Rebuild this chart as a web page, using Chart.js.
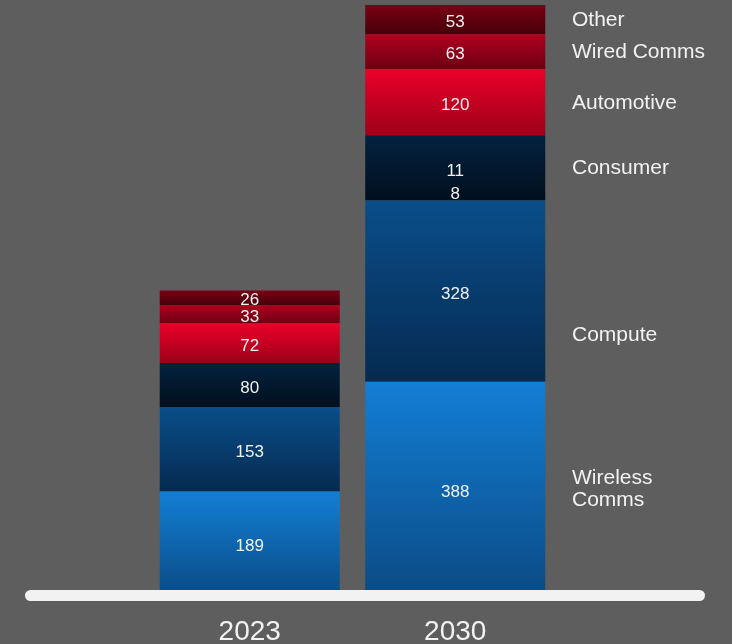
<!DOCTYPE html>
<html>
<head>
<meta charset="utf-8">
<script src="https://cdn.jsdelivr.net/npm/chart.js@4.4.0/dist/chart.umd.min.js"></script>
<style>
html, body { margin: 0; padding: 0; background: #5e5e5e; }
#wrap { width: 732px; height: 644px; }
</style>
</head>
<body>
<div id="wrap"><canvas id="myChart" width="732" height="644"></canvas></div>
<script>
const years = ['2023', '2030'];
const segments = ['Wireless Comms', 'Compute', 'Consumer', 'Automotive', 'Wired Comms', 'Other'];
const wireless = [189, 388];
const compute = [153, 328];
const consumer = [80, 118];
const automotive = [72, 120];
const wiredComms = [33, 63];
const other = [26, 53];
const series = [wireless, compute, consumer, automotive, wiredComms, other];

// the 2030 consumer label is shown split on two lines in the source
const splitText = { 'Consumer|2030': ['11', '8'] };

const gradTop = ['#127fd5', '#0a4e8a', '#04223f', '#ec0029', '#b0001f', '#7a0014'];
const gradBottom = ['#0b4a84', '#052a50', '#010f1e', '#9c0019', '#6c0010', '#46000a'];
const sideShift = [0, 44, 0, 0, 0, 0];
const txt = '#f2f2f2';
const fontFam = '"Liberation Sans", Arial, Helvetica, sans-serif';

function segmentFill(di) {
    return function(context) {
        const chart = context.chart;
        const y = chart.scales.y;
        const i = context.dataIndex;
        if (!chart.chartArea || !y || i === undefined) return gradTop[di];
        let base = 0;
        for (let k = 0; k < di; k++) base += series[k][i];
        const top = y.getPixelForValue(base + series[di][i]);
        const bottom = y.getPixelForValue(base);
        const g = chart.ctx.createLinearGradient(0, top, 0, bottom);
        g.addColorStop(0, gradTop[di]);
        g.addColorStop(1, gradBottom[di]);
        return g;
    };
}

const decor = {
    id: 'decor',
    afterDatasetsDraw(chart) {
        const ctx = chart.ctx;
        const area = chart.chartArea;
        ctx.save();
        // values inside the bars
        ctx.font = '17px ' + fontFam;
        ctx.fillStyle = txt;
        ctx.textAlign = 'center';
        ctx.textBaseline = 'middle';
        chart.data.datasets.forEach(function(ds, di) {
            chart.getDatasetMeta(di).data.forEach(function(bar, i) {
                const mid = (bar.y + bar.base) / 2;
                const lines = splitText[ds.label + '|' + years[i]] || [String(ds.data[i])];
                lines.forEach(function(t, k) {
                    ctx.fillText(t, bar.x, mid + 3 + k * 23);
                });
            });
        });
        // white base line
        ctx.strokeStyle = txt;
        ctx.lineWidth = 11;
        ctx.lineCap = 'round';
        ctx.beginPath();
        ctx.moveTo(30.5, area.bottom - 0.5);
        ctx.lineTo(699.5, area.bottom - 0.5);
        ctx.stroke();
        // segment names next to the 2030 bar
        ctx.font = '21px ' + fontFam;
        ctx.textAlign = 'left';
        chart.data.datasets.forEach(function(ds, di) {
            const bar = chart.getDatasetMeta(di).data[1];
            const mid = (bar.y + bar.base) / 2 + 0.5 + sideShift[di];
            const words = ds.label === 'Wireless Comms' ? ['Wireless', 'Comms'] : [ds.label];
            const start = mid - (words.length - 1) * 11;
            words.forEach(function(w, k) {
                ctx.fillText(w, 572, start + k * 22);
            });
        });
        ctx.restore();
    }
};

const ctx = document.getElementById('myChart');
myChart = new Chart(ctx, {
    type: 'bar',
    data: {
        labels: years,
        datasets: segments.map(function(name, di) {
            return {
                label: name,
                data: series[di],
                backgroundColor: segmentFill(di),
                borderWidth: 0,
                barPercentage: 1,
                categoryPercentage: 0.876
            };
        })
    },
    options: {
        responsive: false,
        animation: false,
        layout: { padding: { left: 147, right: 174, top: 5, bottom: -25 } },
        plugins: { legend: { display: false }, tooltip: { enabled: false } },
        scales: {
            x: {
                stacked: true,
                grid: { display: false, drawTicks: false },
                border: { display: false },
                ticks: { color: txt, padding: 22.5, font: { size: 28, family: fontFam, lineHeight: 1 } }
            },
            y: {
                stacked: true,
                display: false,
                min: 0,
                max: 1070
            }
        }
    },
    plugins: [decor]
});
</script>
</body>
</html>
